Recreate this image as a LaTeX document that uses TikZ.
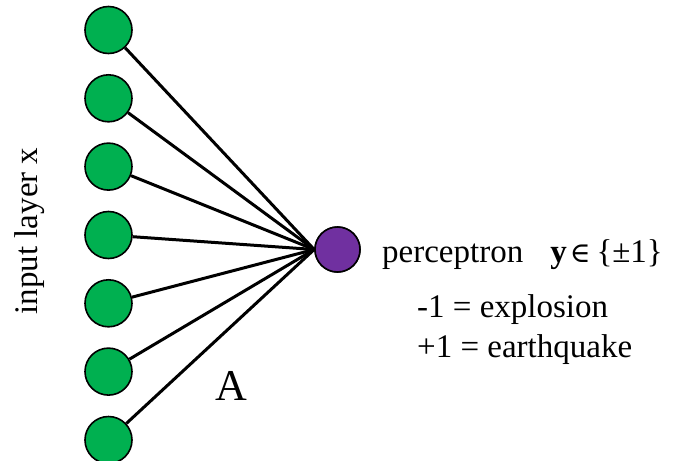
\documentclass[tikz,border=0pt]{standalone}
\usepackage{fontspec}
\setmainfont{Liberation Serif}
\newfontfamily\symfam{DejaVu Serif}
\definecolor{ingreen}{HTML}{00B050}
\definecolor{outpurple}{HTML}{7030A0}
\begin{document}
\begin{tikzpicture}[x=1pt,y=-1pt,
  inode/.style={circle,draw=black,line width=1.6pt,fill=ingreen,minimum size=47pt,inner sep=0pt},
  onode/.style={circle,draw=black,line width=1.6pt,fill=outpurple,minimum size=45pt,inner sep=0pt},
  wire/.style={line width=3pt,black},
  lbl/.style={font=\fontsize{33}{38}\selectfont,inner sep=0pt}]
\useasboundingbox (0,0) rectangle (673,461);
\node[onode] (out) at (337.5,249.5) {};
\foreach \i/\y in {1/30,2/98.3,3/166.6,4/235,5/303.3,6/371.6,7/440}{
  \node[inode] (in\i) at (108.5,\y) {};
}
\foreach \i in {1,...,7}{
  \draw[wire] (in\i) -- (out.west);
}
\node[onode] at (out) {};
\node[lbl,anchor=base west] (perc) at (382,262) {perceptron\hspace{27pt}\textbf{y}\hspace{3pt}{\symfam\fontsize{28}{30}\selectfont ∈}\hspace{6pt}\{±1\}};
\node[lbl,anchor=base west] (expl) at (417,317) {-1 = explosion};
\node[lbl,anchor=base west] (eq) at (417,357) {+1 = earthquake};
\node[lbl,anchor=base,font=\fontsize{44}{50}\selectfont] (A) at (231,400) {A};
\node[lbl,rotate=90] (inl) at (30,231) {input layer x};
\end{tikzpicture}
\end{document}
